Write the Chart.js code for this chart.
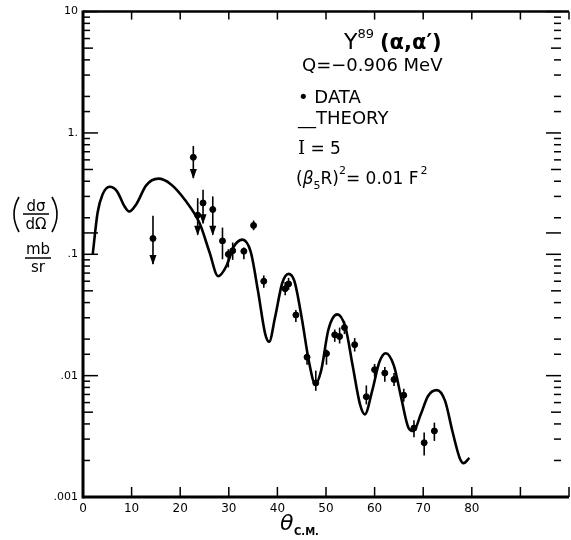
<!DOCTYPE html>
<html>
<head>
<meta charset="utf-8">
<script src="https://cdn.jsdelivr.net/npm/chart.js@4.4.0/dist/chart.umd.min.js"></script>
<style>
  html, body { margin: 0; padding: 0; background: #fff; overflow: hidden; }
  canvas { display: block; }
</style>
</head>
<body>
<canvas id="chartCanvas" width="574" height="540"></canvas>
<script>
// Theory curve (theta c.m. in degrees, cross section in mb/sr)
const theoryAngle = [2, 3, 4, 5.5, 7, 8.5, 9.5, 11, 13, 15.5, 18, 21, 24, 26, 27.8, 29.5, 31, 32.8,
    34.5, 36, 37.5, 38.3, 39.5, 41, 42.3, 43.5, 45, 46.5, 47.8, 49, 50.5, 52.3, 54, 55.5, 57, 58,
    59.5, 61, 62.3, 64, 65.5, 67, 68, 69.5, 71, 72.8, 74.5, 76, 77.5, 78.3, 79.5];
const theoryValue = [0.10, 0.22, 0.31, 0.36, 0.33, 0.25, 0.225, 0.26, 0.37, 0.42, 0.38, 0.28, 0.18, 0.105,
    0.066, 0.08, 0.115, 0.132, 0.105, 0.05, 0.022, 0.019, 0.03, 0.058, 0.069, 0.06, 0.03, 0.013, 0.0085,
    0.011, 0.024, 0.032, 0.025, 0.012, 0.0058, 0.0048, 0.0075, 0.013, 0.0153, 0.012, 0.0065, 0.0037,
    0.0035, 0.0048, 0.0068, 0.0076, 0.0062, 0.0035, 0.0021, 0.0019, 0.0021];

// Measured points with error bar ends; arrow = 1 marks an upper-limit arrow pointing down
const dataAngle = [14.4, 22.7, 23.6, 24.7, 26.7, 28.7, 29.9, 30.8, 33.1, 35.1, 37.2, 41.6, 42.3, 43.8,
    46.1, 47.9, 50.1, 51.8, 52.8, 53.8, 55.9, 58.3, 60.0, 62.1, 64.0, 66.0, 68.1, 70.2, 72.3];
const dataValue = [0.135, 0.63, 0.21, 0.265, 0.234, 0.129, 0.10, 0.107, 0.106, 0.173, 0.060, 0.052, 0.057,
    0.0316, 0.0142, 0.0087, 0.0152, 0.0217, 0.021, 0.0249, 0.018, 0.0067, 0.0112, 0.0105, 0.0093, 0.0069,
    0.0037, 0.0028, 0.0035];
const dataHigh = [0.208, 0.78, 0.29, 0.34, 0.30, 0.166, 0.11, 0.125, 0.114, 0.19, 0.067, 0.059, 0.064,
    0.0347, 0.0157, 0.011, 0.0164, 0.024, 0.0249, 0.028, 0.0204, 0.0083, 0.0125, 0.0118, 0.0105, 0.0078,
    0.0043, 0.0034, 0.0041];
const dataLow = [0.083, 0.425, 0.145, 0.18, 0.145, 0.091, 0.078, 0.09, 0.091, 0.158, 0.053, 0.046, 0.051,
    0.0277, 0.0123, 0.0075, 0.0123, 0.019, 0.0184, 0.022, 0.0158, 0.0058, 0.0098, 0.0089, 0.0082, 0.0061,
    0.0031, 0.0022, 0.0029];
const dataArrow = [1, 1, 1, 1, 1, 0, 0, 0, 0, 0, 0, 0, 0, 0, 0, 0, 0, 0, 0, 0, 0, 0, 0, 0, 0, 0, 0, 0, 0];

// Axis ticks
const xTickLabelMax = 80;
const yTickValues = [0.001, 0.01, 0.1, 1, 10];
const yTickLabels = ['.001', '.01', '.1', '1.', '10'];

const fontName = '"DejaVu Sans", sans-serif';

function line(ctx, x1, y1, x2, y2) {
    ctx.beginPath();
    ctx.moveTo(x1, y1);
    ctx.lineTo(x2, y2);
    ctx.stroke();
}

// Error bars and down arrows
const errorBarPlugin = {
    id: 'errorBars',
    afterDatasetsDraw(chart) {
        const ctx = chart.ctx;
        const xs = chart.scales.x, ys = chart.scales.y;
        ctx.save();
        ctx.strokeStyle = '#000';
        ctx.fillStyle = '#000';
        ctx.lineWidth = 1.6;
        dataAngle.forEach((a, i) => {
            const x = xs.getPixelForValue(a);
            const yHi = ys.getPixelForValue(dataHigh[i]);
            const yLo = ys.getPixelForValue(dataLow[i]);
            line(ctx, x, yHi, x, yLo);
            if (dataArrow[i]) {
                ctx.beginPath();
                ctx.moveTo(x - 3.5, yLo - 9);
                ctx.lineTo(x + 3.5, yLo - 9);
                ctx.lineTo(x, yLo + 1);
                ctx.closePath();
                ctx.fill();
            }
        });
        ctx.restore();
    }
};

// Frame with inward ticks, titles and the text block
const framePlugin = {
    id: 'frame',
    afterDraw(chart) {
        const ctx = chart.ctx;
        const area = chart.chartArea;
        const xs = chart.scales.x, ys = chart.scales.y;
        ctx.save();
        ctx.strokeStyle = '#000';
        ctx.lineWidth = 3;
        line(ctx, area.left, area.top - 1, area.left, area.bottom + 1.5);
        line(ctx, area.left, area.bottom, area.right, area.bottom);
        ctx.lineWidth = 2.5;
        line(ctx, area.left, area.top, area.right, area.top);

        // y ticks on both sides
        ctx.lineWidth = 1.5;
        ys.ticks.forEach(t => {
            const y = ys.getPixelForValue(t.value);
            const m = Math.round(t.value / Math.pow(10, Math.floor(Math.log10(t.value) + 1e-9)));
            const len = m === 1 ? 15 : (m === 5 ? 10 : 7);
            line(ctx, area.left, y, area.left + len, y);
            line(ctx, area.right - 8, y, area.right - 8 - len, y);
        });
        // x ticks top and bottom
        xs.ticks.forEach(t => {
            const x = xs.getPixelForValue(t.value);
            line(ctx, x, area.bottom, x, area.bottom - 10);
            line(ctx, x, area.top, x, area.top + 8);
        });

        ctx.fillStyle = '#000';
        ctx.textAlign = 'left';
        ctx.textBaseline = 'alphabetic';

        // y axis title: (dσ/dΩ)  mb/sr
        ctx.lineWidth = 1.6;
        ctx.beginPath();
        ctx.moveTo(19, 197);
        ctx.quadraticCurveTo(9, 214, 19, 232);
        ctx.stroke();
        ctx.beginPath();
        ctx.moveTo(52, 197);
        ctx.quadraticCurveTo(62, 214, 52, 232);
        ctx.stroke();
        ctx.textAlign = 'center';
        ctx.font = '15px ' + fontName;
        ctx.fillText('d\u03c3', 36, 211);
        ctx.fillText('d\u03a9', 36, 229);
        ctx.fillText('mb', 38, 254);
        ctx.fillText('sr', 38, 272);
        ctx.lineWidth = 1.5;
        line(ctx, 23, 214, 49, 214);
        line(ctx, 25, 258, 51, 258);

        // x axis title: θ c.m.
        ctx.textAlign = 'left';
        ctx.font = 'italic 22px ' + fontName;
        ctx.fillText('\u03b8', 280, 530);
        ctx.font = 'bold 10px ' + fontName;
        ctx.fillText('C.M.', 294, 535);

        // text block
        let x = 344;
        ctx.font = '22px ' + fontName;
        ctx.fillText('Y', x, 49);
        x += ctx.measureText('Y').width;
        ctx.font = '13px ' + fontName;
        ctx.fillText('89', x, 38);
        x += ctx.measureText('89').width + 6;
        ctx.font = 'bold 21px ' + fontName;
        ctx.fillText('(\u03b1,\u03b1\u2032)', x, 49);

        ctx.font = '18px ' + fontName;
        ctx.fillText('Q=\u22120.906 MeV', 302, 71);
        ctx.fillText('\u2022 DATA', 298, 103);
        ctx.fillText('__THEORY', 298, 124);
        ctx.font = '18px "DejaVu Serif", serif';
        ctx.fillText('I', 298, 154);
        ctx.font = '17px ' + fontName;
        ctx.fillText(' = 5', 298 + 7, 154);

        x = 296;
        ctx.fillText('(', x, 184);
        x += ctx.measureText('(').width;
        ctx.font = 'italic 17px ' + fontName;
        ctx.fillText('\u03b2', x, 184);
        x += ctx.measureText('\u03b2').width;
        ctx.font = '11px ' + fontName;
        ctx.fillText('5', x, 189);
        x += ctx.measureText('5').width;
        ctx.font = '17px ' + fontName;
        ctx.fillText('R)', x, 184);
        x += ctx.measureText('R)').width;
        ctx.font = '11px ' + fontName;
        ctx.fillText('2', x, 174);
        x += ctx.measureText('2').width;
        ctx.font = '17px ' + fontName;
        ctx.fillText('= 0.01 F', x, 184);
        x += ctx.measureText('= 0.01 F').width + 2;
        ctx.font = '11px ' + fontName;
        ctx.fillText('2', x, 174);
        ctx.restore();
    }
};

const ctx = document.getElementById('chartCanvas').getContext('2d');
new Chart(ctx, {
    data: {
        datasets: [
            {
                type: 'line',
                label: 'Theory',
                data: theoryAngle.map((a, i) => ({ x: a, y: theoryValue[i] })),
                borderColor: '#000',
                borderWidth: 2.6,
                pointRadius: 0,
                cubicInterpolationMode: 'monotone',
                fill: false
            },
            {
                type: 'scatter',
                label: 'Data',
                data: dataAngle.map((a, i) => ({ x: a, y: dataValue[i] })),
                backgroundColor: '#000',
                borderColor: '#000',
                pointRadius: 3
            }
        ]
    },
    options: {
        responsive: false,
        animation: false,
        layout: { padding: { top: 7, right: 0, left: 0, bottom: 0 } },
        plugins: {
            legend: { display: false },
            tooltip: { enabled: false }
        },
        scales: {
            x: {
                type: 'linear',
                min: 0,
                max: 100,
                grid: { display: false, drawTicks: false },
                border: { display: false },
                afterFit: scale => { scale.height = 43; },
                ticks: {
                    stepSize: 10,
                    padding: 5,
                    color: '#000',
                    font: { family: fontName, size: 12 },
                    callback: v => (v <= xTickLabelMax ? String(v) : '')
                }
            },
            y: {
                type: 'logarithmic',
                min: 0.001,
                max: 10,
                grid: { display: false, drawTicks: false },
                border: { display: false },
                afterFit: scale => { scale.width = 83; },
                ticks: {
                    autoSkip: false,
                    padding: 5,
                    color: '#000',
                    font: { family: fontName, size: 11 },
                    callback: v => {
                        const i = yTickValues.findIndex(t => Math.abs(v - t) < t * 1e-6);
                        return i >= 0 ? yTickLabels[i] : '';
                    }
                }
            }
        }
    },
    plugins: [errorBarPlugin, framePlugin]
});
</script>
</body>
</html>
